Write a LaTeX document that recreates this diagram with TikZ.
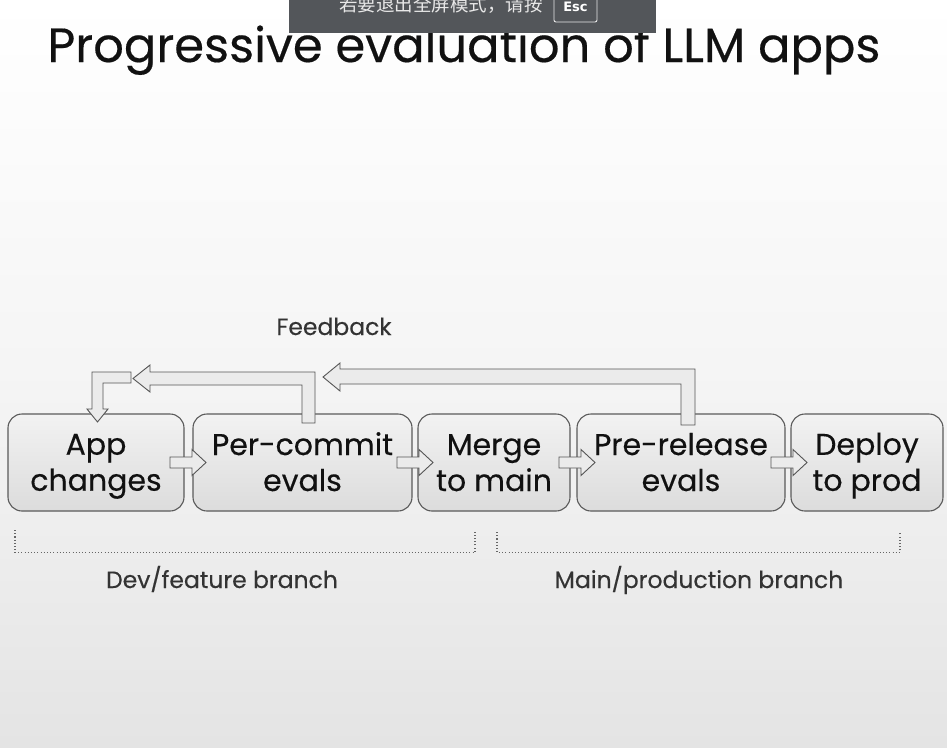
\documentclass[tikz,border=0pt]{standalone}
\usepackage{fontspec}
\setmainfont{Poppins}[FakeBold=0.35]
\newfontfamily\cjkfont{Noto Sans CJK SC}
\newfontfamily\escfont{DejaVu Sans}
\usetikzlibrary{calc}
\definecolor{bgbot}{HTML}{E4E4E4}
\definecolor{boxtop}{HTML}{F2F2F2}
\definecolor{boxbot}{HTML}{DCDCDC}
\definecolor{boxline}{HTML}{5A5A5A}
\definecolor{arrfill}{HTML}{EBEBEB}
\definecolor{arrline}{HTML}{555555}
\definecolor{txt}{HTML}{111111}
\definecolor{lbltxt}{HTML}{333333}
\definecolor{dotc}{HTML}{666666}
\definecolor{banner}{HTML}{53565A}
\definecolor{bannertxt}{HTML}{E8E8E8}
\newcommand\twoln[2]{\rule[-7.5pt]{0pt}{36pt}#1\\\rule[-7.5pt]{0pt}{28.5pt}#2}
\begin{document}
\begin{tikzpicture}[x=1pt,y=-1pt,
  box/.style={draw=boxline, line width=1.1pt, rounded corners=14pt, top color=boxtop, bottom color=boxbot,
    align=center, inner sep=0pt, minimum height=97pt, font=\fontsize{30}{36}\selectfont, text=txt},
  blk/.style={draw=arrline, line width=0.9pt, fill=arrfill, line join=miter},
  dots/.style={draw=dotc, dash pattern=on 1.1pt off 2.1pt, line width=1.2pt},
  lbl/.style={font=\fontsize{23.5}{27}\selectfont, text=lbltxt, inner sep=0pt},
  harrow/.pic={\draw[blk] (0,-5.5) -- (22,-5.5) -- (22,-13) -- (36,0) -- (22,13) -- (22,5.5) -- (0,5.5) -- cycle;}]
\useasboundingbox (0,0) rectangle (947,747);
\fill[top color=white, bottom color=bgbot, middle color=white!96!black, shading angle=0] (0,0) rectangle (947,747);

% title
\node[anchor=base, font=\fontsize{48}{54}\selectfont, text=txt, inner sep=0pt] (title) at (464,62) {Progressive evaluation of LLM apps};

% boxes
\node[box, minimum width=176pt] (app) at (96,462.5) {\twoln{App}{changes}};
\node[box, minimum width=219pt] (per) at (302.5,462.5) {\twoln{Per-commit}{evals}};
\node[box, minimum width=152pt] (merge) at (494,462.5) {\twoln{Merge}{to main}};
\node[box, minimum width=208pt] (pre) at (681,462.5) {\twoln{Pre-release}{evals}};
\node[box, minimum width=152pt] (deploy) at (867,462.5) {\twoln{Deploy}{to prod}};

% forward block arrows
\pic at (170,462.5) {harrow};
\pic at (397,462.5) {harrow};
\pic at (559,462.5) {harrow};
\pic at (771,462.5) {harrow};

% feedback arrows
\draw[blk] (681,425) -- (681,384) -- (340,384) -- (340,391) -- (323,377) -- (340,363) -- (340,369) -- (695,369) -- (695,425) -- cycle;
\draw[blk] (302,423) -- (302,385) -- (150,385) -- (150,392) -- (133,378.5) -- (150,365) -- (150,372) -- (315,372) -- (315,423) -- cycle;
\draw[blk] (131,372) -- (92,372) -- (92,409) -- (87,409) -- (97.5,422) -- (108,409) -- (103,409) -- (103,383) -- (131,383) -- cycle;

\node[lbl, anchor=base] (fb) at (334,335) {Feedback};

% branch brackets
\draw[dots] (15,530) -- (15,552.5) -- (475,552.5) -- (475,532);
\draw[dots] (497,532) -- (497,552.5) -- (900,552.5) -- (900,532);
\node[lbl, anchor=base] (dev) at (222,588) {Dev/feature branch};
\node[lbl, anchor=base] (main) at (699,588) {Main/production branch};

% fullscreen banner
\fill[banner] (289,-2) rectangle (656,33);
\node[anchor=base west, font=\cjkfont\fontsize{18.5}{20}\selectfont, text=bannertxt, inner sep=0pt] (bt) at (339,11) {若要退出全屏模式，请按};
\draw[bannertxt, line width=0.9pt, rounded corners=2pt] (554,-5) rectangle (597,22);
\node[anchor=base, font=\escfont\bfseries\fontsize{13}{15}\selectfont, text=white, inner sep=0pt] (esc) at (575.5,11) {Esc};
\end{tikzpicture}
\end{document}
